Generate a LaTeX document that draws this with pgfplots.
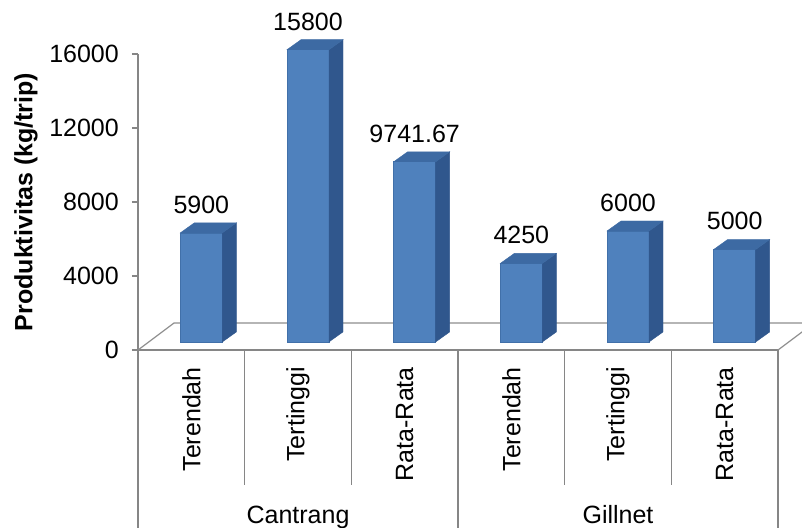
\documentclass[border=0pt]{standalone}
\usepackage{pgfplots}
\pgfplotsset{compat=1.18}
\usepackage{pgfplotstable}
\usepackage{fontspec}
\setmainfont{Liberation Sans}

\definecolor{barFront}{HTML}{4F81BD}
\definecolor{barTop}{HTML}{3D6AA3}
\definecolor{barSide}{HTML}{30578D}
\definecolor{barEdge}{HTML}{4170A9}
\definecolor{axisgray}{HTML}{868686}
\definecolor{floorgray}{HTML}{8E8E8E}

\newcommand\fs{\fontsize{25}{30}\selectfont}

% productivity per trip
\pgfplotstableread{
i v
0 5900
1 15800
2 9741.67
3 4250
4 6000
5 5000
}\prodtable

% top and right faces of a 3D column; \colv holds the column value
\pgfdeclareplotmark{colcap}{%
  \fill[barSide] (21pt,0pt) -- (35pt,10pt) -- (35pt,{10pt-0.0185pt*\colv}) -- (21pt,{-0.0185pt*\colv}) -- cycle;
  \fill[barTop] (-21pt,0pt) -- (21pt,0pt) -- (35pt,10pt) -- (-7pt,10pt) -- cycle;
}

\begin{document}
\begin{tikzpicture}
\useasboundingbox (-138pt,-177pt) rectangle (664pt,350pt);
\clip (-138pt,-177pt) rectangle (664pt,350pt);

% frame: value axis, floor and category axis
\begin{axis}[
  at={(0pt,0pt)}, anchor=south west,
  x=106.667pt, y=0.0185pt,
  xmin=-0.5, xmax=5.5, ymin=0, ymax=16000,
  enlargelimits=false, clip=false,
  scaled y ticks=false,
  axis x line*=bottom, axis y line*=left,
  axis line style={draw=axisgray, line width=1.2pt},
  ytick={0,4000,8000,12000,16000},
  yticklabels={0,4000,8000,12000,16000},
  tick align=outside, major tick length=6pt,
  ytick style={draw=axisgray, line width=1.2pt},
  yticklabel style={font=\fs, anchor=east, inner sep=0pt, xshift=-13pt},
  xtick={0,1,2,3,4,5},
  xticklabels={Terendah,Tertinggi,Rata-Rata,Terendah,Tertinggi,Rata-Rata},
  xtick style={draw=none},
  xticklabel style={font=\fs, yshift=-11pt, rotate=90, anchor=east, inner sep=0pt},
  ylabel={Produktivitas (kg/trip)},
  ylabel style={font=\fs\bfseries, at={(axis description cs:-0.175,0.5)}, anchor=center},
]
% floor
\draw[floorgray, line width=1.2pt] (axis cs:-0.5,0) -- (axis cs:-0.1625,1459.46) -- (axis cs:5.8375,1459.46);
\draw[floorgray, line width=1.2pt] (axis cs:5.5,0) -- (axis cs:5.8375,1459.46);
% category separators
\pgfplotsinvokeforeach{0.5,1.5,3.5,4.5}{
  \draw[axisgray, line width=1.3pt] (axis cs:#1,0) -- ++(0pt,-135pt);
}
\pgfplotsinvokeforeach{-0.5,2.5,5.5}{
  \draw[axisgray, line width=1.3pt] (axis cs:#1,0) -- ++(0pt,-190pt);
}
% group names
\node[font=\fs, anchor=base] at ([yshift=-173pt]axis cs:1,0) {Cantrang};
\node[font=\fs, anchor=base] at ([yshift=-173pt]axis cs:4,0) {Gillnet};
\end{axis}

% columns, set back from the front edge of the floor
\begin{axis}[
  at={(10pt,8pt)}, anchor=south west,
  x=106.667pt, y=0.0185pt,
  xmin=-0.5, xmax=5.5, ymin=0, ymax=16000,
  enlargelimits=false, hide axis, clip=false,
]
\addplot[ybar, bar width=42pt, fill=barFront, draw=barEdge, line width=0.6pt,
  nodes near coords={\pgfmathprintnumber[fixed, precision=2, 1000 sep={}, assume math mode=true]{\pgfplotspointmeta}},
  every node near coord/.append style={font=\fs, inner sep=0pt, anchor=south, yshift=19pt, text=black}]
  table[x=i, y=v] {\prodtable};
\addplot[only marks, mark=colcap, visualization depends on={\thisrow{v} \as \colv}]
  table[x=i, y=v] {\prodtable};
\end{axis}
\end{tikzpicture}
\end{document}
